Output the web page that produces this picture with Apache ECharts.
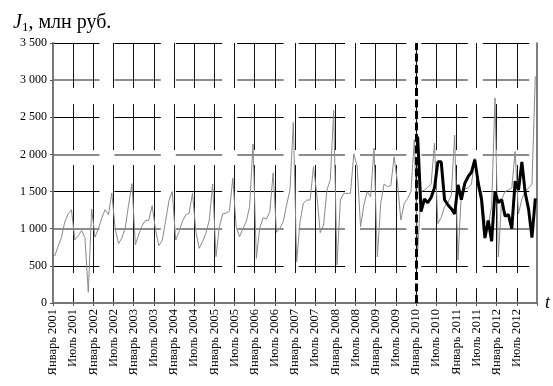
<!DOCTYPE html>
<html><head><meta charset="utf-8">
<script src="https://cdn.jsdelivr.net/npm/echarts@6/dist/echarts.min.js"></script>
<style>html,body{margin:0;padding:0;background:#fff}#c{width:553px;height:386px}</style>
</head><body><div id="c"></div>
<script>
const years = [2001,2002,2003,2004,2005,2006,2007,2008,2009,2010,2011,2012];
const monthNames = ['Январь','Февраль','Март','Апрель','Май','Июнь','Июль','Август','Сентябрь','Октябрь','Ноябрь','Декабрь'];
const tickLabels = ['Январь 2001','Июль 2001','Январь 2002','Июль 2002','Январь 2003','Июль 2003',
  'Январь 2004','Июль 2004','Январь 2005','Июль 2005','Январь 2006','Июль 2006',
  'Январь 2007','Июль 2007','Январь 2008','Июль 2008','Январь 2009','Июль 2009',
  'Январь 2010','Июль 2010','Январь 2011','Июль 2011','Январь 2012','Июль 2012'];
// actual monthly values J1, 2001-2012
const actual = [
  630, 760, 880,1090,1200,1255, 850, 906, 975, 880, 145,1265,
  888, 996,1144,1256,1189,1480,1000, 800, 875,1010,1324,1606,
  785, 920,1040,1113,1113,1310, 987, 772, 844,1100,1380,1500,
  848, 960,1100,1185,1207,1476, 965, 736, 830, 940,1117,1602,
  624,1030,1200,1210,1240,1680,1028, 893,1000,1095,1297,2140,
  601,1005,1150,1130,1230,1750, 950,1005,1095,1319,1521,2430,
  556,1095,1342,1386,1386,1835,1454, 947,1050,1521,1656,2590,
  511,1386,1476,1476,1476,2010,1835,1027,1319,1499,1431,2085,
  620,1342,1602,1566,1579,1970,1611,1117,1342,1409,1500,2200,
  720,1500,1520,1560,1600,2150,1070,1150,1300,1350,1450,2260,
  580,1480,1530,1550,1600,1950,1520,1500,1100,1050,1300,2760,
  620,1400,1500,1520,1550,2040,1200,1400,1500,1550,1600,3050
];
// model values 2010-2012
const model = [
  2240,1230,1400,1350,1420,1550,1900,1900,1390,1320,1270,1200,
  1590,1390,1610,1700,1760,1930,1620,1390, 875,1110, 830,1500,
  1350,1390,1170,1190,1000,1640,1520,1900,1480,1260, 880,1410
];
const splitIndex = 108; // Январь 2010

const categories = [];
years.forEach(y => monthNames.forEach(m => categories.push(m + ' ' + y)));
const modelFull = new Array(actual.length - model.length).fill(null).concat(model);

const chart = echarts.init(document.getElementById('c'), null, {renderer:'canvas'});
const serif = 'Liberation Serif';
chart.setOption({
  animation:false,
  backgroundColor:'#fff',
  title:{
    text:'{j|J}{s|1}{n|, млн руб.}',
    left:8, top:7,
    textStyle:{
      fontWeight:'normal',
      rich:{
        j:{fontFamily:serif, fontStyle:'italic', fontWeight:'normal', fontSize:20, color:'#000'},
        s:{fontFamily:serif, fontWeight:'normal', fontSize:13, color:'#000', verticalAlign:'bottom', padding:[9,0,0,0]},
        n:{fontFamily:serif, fontWeight:'normal', fontSize:20, color:'#000'}
      }
    }
  },
  grid:{left:53, right:15, top:43, bottom:83, containLabel:false},
  xAxis:[
    {type:'category', data:categories, boundaryGap:true, position:'bottom', show:false},
    {type:'value', min:0, max:categories.length, interval:6, position:'bottom',
     axisLine:{show:true, onZero:false, lineStyle:{color:'#777', width:2}},
     axisTick:{show:true, length:3, lineStyle:{color:'#555'}},
     axisLabel:{rotate:90, margin:6, color:'#000', fontFamily:serif, fontSize:12.5,
       formatter:v => (v/6 < tickLabels.length ? tickLabels[v/6] : '')},
     splitLine:{show:true, showMinLine:false, showMaxLine:false,
       lineStyle:{color:'#111', width:1, type:[45,16,46,15,108,15,40]}},
     name:'t', nameLocation:'end', nameGap:8,
     nameTextStyle:{fontFamily:serif, fontStyle:'italic', fontSize:18, color:'#000', verticalAlign:'middle'}
    }
  ],
  yAxis:[
    {type:'value', min:0, max:3500, interval:500, position:'left',
     axisLine:{show:true, lineStyle:{color:'#777', width:2}},
     axisTick:{show:true, length:3, lineStyle:{color:'#555'}},
     axisLabel:{margin:6, color:'#000', fontFamily:serif, fontSize:12,
       formatter:v => v >= 1000 ? Math.floor(v/1000) + ' ' + String(v % 1000).padStart(3,'0') : String(v)},
     splitLine:{show:true, lineStyle:{color:['rgba(0,0,0,0)','#000'], width:1, type:[46.4,15]}}
    },
    {type:'value', min:0, max:3500, interval:1000, position:'right',
     axisLine:{show:true, lineStyle:{color:'#555', width:1.5}},
     axisTick:{show:false}, axisLabel:{show:false},
     splitLine:{show:true, showMinLine:false, showMaxLine:false,
       lineStyle:{color:'#8c8c8c', width:2, type:[46.4,15]}}}
  ],
  series:[
    {type:'line', name:'Фактические', xAxisIndex:0, yAxisIndex:0, data:actual,
     symbol:'none', lineStyle:{color:'#8a8a8a', width:1}, z:3},
    {type:'line', name:'Модель', xAxisIndex:0, yAxisIndex:0, data:modelFull,
     symbol:'none', lineStyle:{color:'#000', width:3}, z:4},
    {type:'line', name:'split', xAxisIndex:1, yAxisIndex:0, data:[], symbol:'none',
     markLine:{silent:true, symbol:'none', label:{show:false},
       lineStyle:{color:'#000', width:3, type:[8,3.5]},
       data:[{xAxis:splitIndex}]}, z:5}
  ]
});
</script></body></html>
